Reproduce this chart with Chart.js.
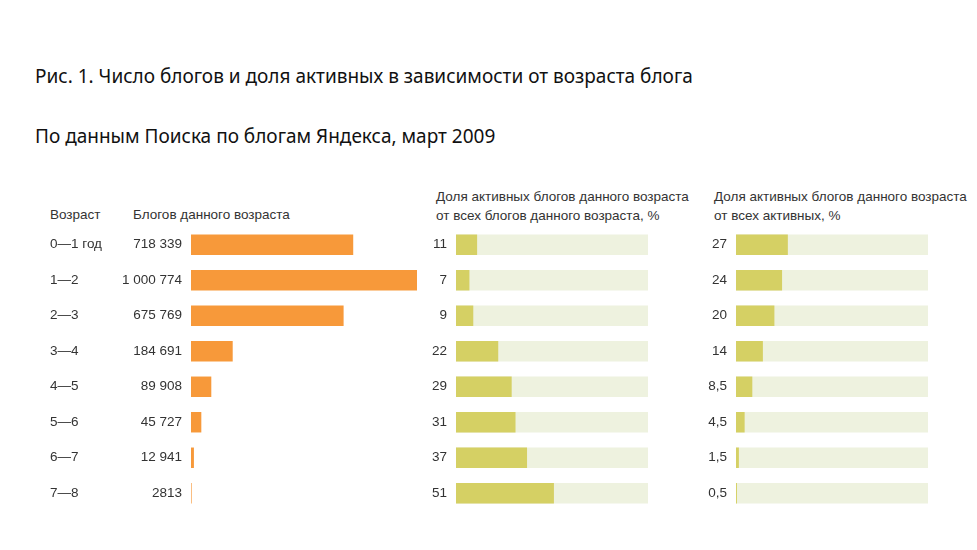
<!DOCTYPE html>
<html><head><meta charset="utf-8">
<script src="https://cdn.jsdelivr.net/npm/chart.js@4"></script>
<style>
html,body{margin:0;padding:0;background:#fff;width:977px;height:550px;overflow:hidden;position:relative;font-family:"Liberation Sans",Arial,sans-serif;}
.t{position:absolute;white-space:nowrap;color:#111;}
.title{font-family:"Noto Sans",sans-serif;font-size:19px;left:35px;}
.h{font-size:13.5px;color:#333;line-height:19px;}
.box{position:absolute;}
</style></head>
<body>
<div class="t title" id="title" style="top:63px">Рис. 1. Число блогов и доля активных в зависимости от возраста блога</div>
<div class="t title" id="sub" style="top:123px">По данным Поиска по блогам Яндекса, март 2009</div>
<div class="t h" style="left:50px;top:205px">Возраст</div>
<div class="t h" style="left:133px;top:205px">Блогов данного возраста</div>
<div class="t h" style="left:436px;top:187px">Доля активных блогов данного возраста<br>от всех блогов данного возраста, %</div>
<div class="t h" style="left:714px;top:187px">Доля активных блогов данного возраста<br>от всех активных, %</div>
<div class="box" style="left:50px;top:227px;width:367px;height:284px"><canvas id="c1"></canvas></div>
<div class="box" style="left:410px;top:227px;width:238px;height:284px"><canvas id="c2"></canvas></div>
<div class="box" style="left:690px;top:227px;width:238px;height:284px"><canvas id="c3"></canvas></div>
<script>
const ages = ["0—1 год","1—2","2—3","3—4","4—5","5—6","6—7","7—8"];
const blogCounts = [718339, 1000774, 675769, 184691, 89908, 45727, 12941, 2813];
const activeShareOfAge = [11, 7, 9, 22, 29, 31, 37, 51];
const activeShareOfAll = [27, 24, 20, 14, 8.5, 4.5, 1.5, 0.5];
const fullScale = [100, 100, 100, 100, 100, 100, 100, 100];

const fmtCount = n => n < 10000 ? String(n) : String(n).replace(/\B(?=(\d{3})+(?!\d))/g, " ");
const fmtPct = n => String(n).replace(".", ",");

const tickFont = {family: "'Liberation Sans', Arial, sans-serif", size: 13.5};
const tickColor = "#333";
Chart.defaults.animation = false;

const common = {
  responsive: true, maintainAspectRatio: false, indexAxis: 'y',
  layout: {padding: 0},
  plugins: {legend: {display: false}, tooltip: {enabled: false}, title: {display: false}}
};
const fitWidth = w => s => { s.width = w; s.paddingTop = 0; s.paddingBottom = 0; };

new Chart(document.getElementById('c1'), {
  type: 'bar',
  data: {labels: ages, datasets: [{data: blogCounts, backgroundColor: '#F7993A', barPercentage: 0.8, categoryPercentage: 0.72, yAxisID: 'yCount'}]},
  options: Object.assign({}, common, {
    scales: {
      x: {display: false, min: 0, max: 1000774},
      yAge: {type: 'category', position: 'left', weight: 1, labels: ages,
        grid: {display: false, drawTicks: false}, border: {display: false},
        ticks: {font: tickFont, color: tickColor, crossAlign: 'far', padding: 0},
        afterFit: fitWidth(60)},
      yCount: {type: 'category', position: 'left', weight: 0,
        grid: {display: false, drawTicks: false}, border: {display: false},
        ticks: {font: tickFont, color: tickColor, crossAlign: 'near', padding: 9,
          callback: (v, i) => fmtCount(blogCounts[i])},
        afterFit: fitWidth(81)}
    }
  })
});

function shareChart(id, values) {
  new Chart(document.getElementById(id), {
    type: 'bar',
    data: {labels: ages, datasets: [
      {data: values, backgroundColor: '#D5D064', barPercentage: 0.8, categoryPercentage: 0.72, grouped: false, order: 0},
      {data: fullScale, backgroundColor: '#EEF2DF', barPercentage: 0.8, categoryPercentage: 0.72, grouped: false, order: 1}
    ]},
    options: Object.assign({}, common, {
      scales: {
        x: {display: false, min: 0, max: 100},
        y: {grid: {display: false, drawTicks: false}, border: {display: false},
          ticks: {font: tickFont, color: tickColor, crossAlign: 'near', padding: 9,
            callback: (v, i) => fmtPct(values[i])},
          afterFit: fitWidth(46)}
      }
    })
  });
}
shareChart('c2', activeShareOfAge);
shareChart('c3', activeShareOfAll);
</script>
</body></html>
